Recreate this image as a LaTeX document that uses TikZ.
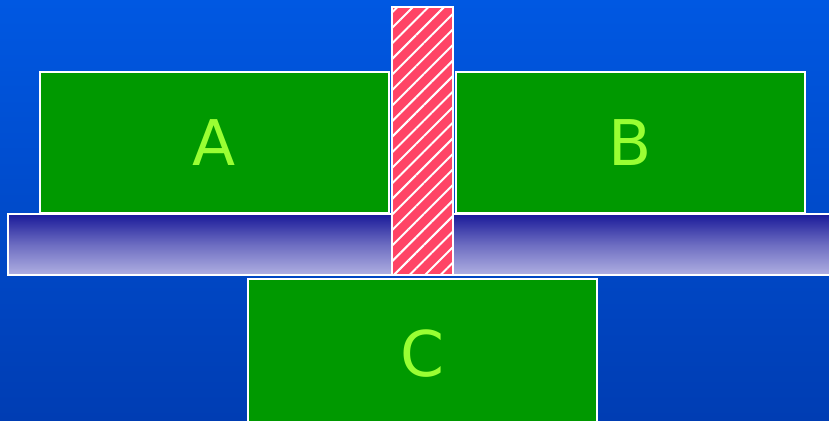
\documentclass[tikz,border=0pt]{standalone}
\usepackage{fontspec}
\setsansfont{DejaVu Sans}
\usetikzlibrary{patterns.meta}
\definecolor{sky}{HTML}{0058E2}
\definecolor{deep}{HTML}{003DB3}
\definecolor{leaf}{HTML}{009900}
\definecolor{lime}{HTML}{99FF33}
\definecolor{navy}{HTML}{1A1A99}
\definecolor{lilac}{HTML}{B0B0E2}
\definecolor{rose}{HTML}{FF4466}

\begin{document}
\begin{tikzpicture}[x=1pt, y=-1pt,
  box/.style={draw=white, line width=2pt, fill=leaf, text=lime, inner sep=0pt,
    minimum width=349pt, minimum height=141pt,
    font=\sffamily\fontsize{63}{63}\selectfont},
  shelf/.style={draw=white, line width=2pt, top color=navy, bottom color=lilac,
    middle color=lilac!55!navy, inner sep=0pt},
  peg/.style={draw=white, line width=2pt, inner sep=0pt,
    preaction={fill=rose},
    pattern={Lines[angle=45, distance=11pt, line width=2pt]}, pattern color=white}]
  \useasboundingbox (0,0) rectangle (829,420);
  \clip (0,0) rectangle (829,420);
  \shade[top color=sky, bottom color=deep] (0,0) rectangle (829,420);
  % bar across the middle
  \node[shelf, minimum width=827pt, minimum height=61pt] (bar) at (421.5,244.5) {};
  % the three boxes
  \node[box] (a) at (214.5,142.5) {A};
  \node[box] (b) at (630.5,142.5) {B};
  \node[box, minimum height=150pt] (c) at (422.5,354) {C};
  % hatched post
  \node[peg, minimum width=61pt, minimum height=268pt] (post) at (422.5,141) {};
\end{tikzpicture}
\end{document}
